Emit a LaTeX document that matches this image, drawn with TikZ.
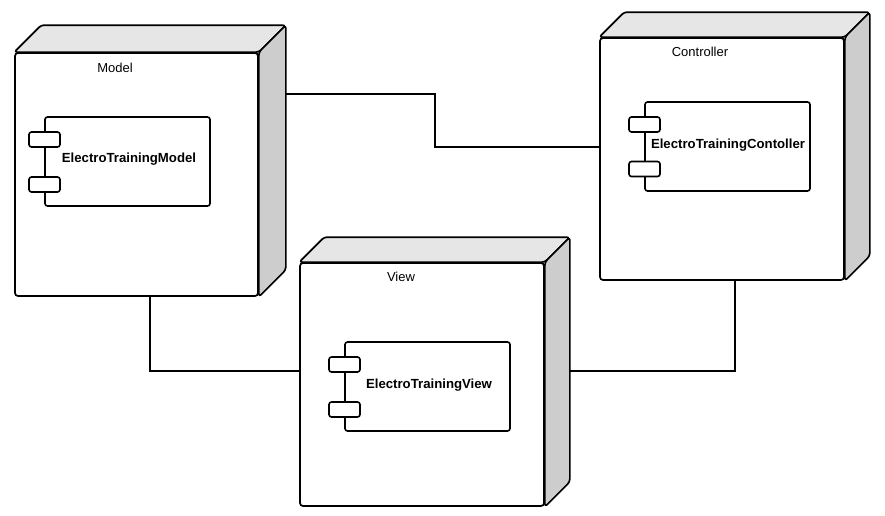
\documentclass[tikz,border=0pt]{standalone}
\usepackage{fontspec}
\setmainfont{Liberation Sans}
\usetikzlibrary{calc}
\definecolor{topgray}{HTML}{E6E6E6}
\definecolor{sidegray}{HTML}{CDCDCD}
\begin{document}
\begin{tikzpicture}[x=1pt,y=-1pt,
  front/.style={draw, line width=1.7pt, fill=white, rounded corners=3pt, inner sep=0pt},
  face/.style={draw, line width=1.7pt, rounded corners=3pt, line join=round},
  comp/.style={draw, line width=1.6pt, fill=white, rounded corners=2.5pt, inner sep=0pt, minimum width=165pt, minimum height=89pt},
  port/.style={draw, line width=1.6pt, fill=white, rounded corners=2.5pt, inner sep=0pt, minimum width=31pt, minimum height=15pt},
  title/.style={font=\fontsize{13}{15}\selectfont, inner sep=0pt},
  complabel/.style={font=\bfseries\fontsize{13.2}{15}\selectfont, inner sep=0pt},
  conn/.style={line width=1.6pt}]
\useasboundingbox (0,0) rectangle (885,515);

% device front faces
\node[front, minimum width=243pt, minimum height=243pt] (model) at (136.5,174.5) {};
\node[front, minimum width=244pt, minimum height=242pt] (ctrl) at (722,159) {};
\node[front, minimum width=244pt, minimum height=243pt] (view) at (422,384.5) {};

% top and side faces
\foreach \n/\d in {model/27, ctrl/25, view/25} {
  \draw[face, fill=topgray] (\n.north west) -- ++(\d,-\d) -- ($(\n.north east)+(\d,-\d)$) -- (\n.north east) -- cycle;
  \draw[face, fill=sidegray] (\n.north east) -- ++(\d,-\d) -- ($(\n.south east)+(\d,-\d)$) -- (\n.south east) -- cycle;
}
\coordinate (modelR) at ($(model.north east)+(27,0)$);
\coordinate (viewR) at ($(view.north east)+(25,0)$);

% titles
\node[title] (modelt) at (115,68) {Model};
\node[title] (ctrlt) at (700,52) {Controller};
\node[title] (viewt) at (401,277) {View};

% components
\node[comp] (mc) at (127.5,161.5) {};
\node[port] (mp1) at (44.5,139.5) {};
\node[port] (mp2) at (44.5,184.5) {};
\node[complabel] (mcl) at (129,159) {ElectroTrainingModel};

\node[comp] (cc) at (727.5,146.5) {};
\node[port] (cp1) at (644.5,124.5) {};
\node[port] (cp2) at (644.5,169) {};
\node[complabel] (ccl) at (728,145) {ElectroTrainingContoller};

\node[comp] (vc) at (427.5,386.5) {};
\node[port] (vp1) at (344.5,364.5) {};
\node[port] (vp2) at (344.5,409.5) {};
\node[complabel] (vcl) at (429,385) {ElectroTrainingView};

% connectors
\draw[conn] (modelR |- 0,94) -- (435,94) |- (ctrl.west |- 0,147);
\draw[conn] (150,0 |- model.south) |- (view.west |- 0,371);
\draw[conn] (viewR |- 0,371) -| (735,0 |- ctrl.south);
\end{tikzpicture}
\end{document}
